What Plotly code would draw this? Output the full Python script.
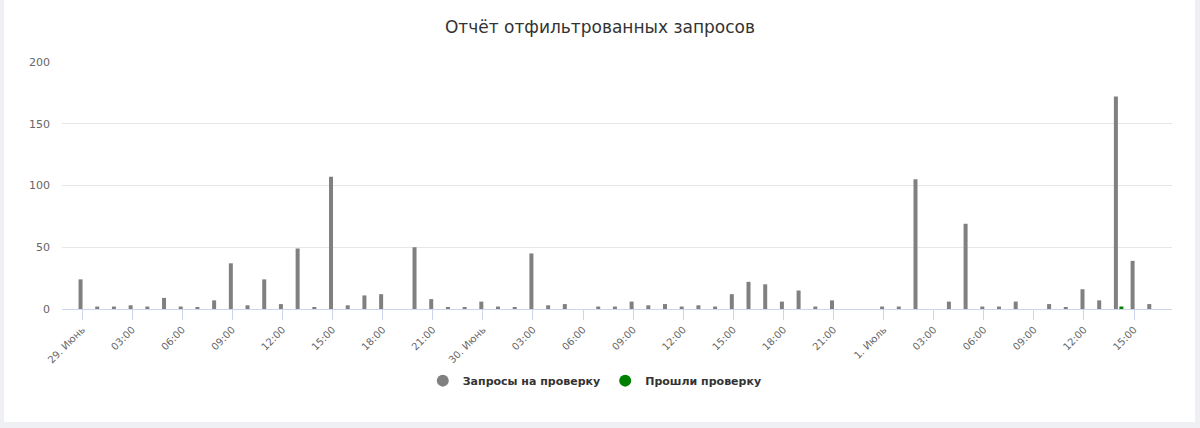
import pandas as pd
import plotly.graph_objects as go

# hourly data, starting 29 June 00:00
start = "2023-06-29 00:00"
requests_checked = [
    24, 2, 2, 3, 2, 9, 2, 1, 7, 37, 3, 24, 4, 49, 1, 107, 3, 11, 12, 0, 50, 8, 1, 1,
    6, 2, 1, 45, 3, 4, 0, 2, 2, 6, 3, 4, 2, 3, 2, 12, 22, 20, 6, 15, 2, 7, 0, 0,
    2, 2, 105, 0, 6, 69, 2, 2, 6, 0, 4, 1, 16, 7, 172, 39, 4,
]
requests_passed = [0] * 62 + [2, 0, 0]

tick_labels = [
    "29. Июнь", "03:00", "06:00", "09:00", "12:00", "15:00", "18:00", "21:00",
    "30. Июнь", "03:00", "06:00", "09:00", "12:00", "15:00", "18:00", "21:00",
    "1. Июль", "03:00", "06:00", "09:00", "12:00", "15:00",
]
y_ticks = [0, 50, 100, 150, 200]

hours = pd.date_range(start, periods=len(requests_checked), freq="h")
tick_vals = pd.date_range(start, periods=len(tick_labels), freq="3h")
HOUR_MS = 3600 * 1000

font = "DejaVu Sans, Verdana, sans-serif"

fig = go.Figure()
fig.add_trace(go.Bar(x=hours, y=requests_checked, name="Запросы на проверку",
                     marker_color="#808080", marker_line_width=0,
                     offset=-0.21 * HOUR_MS, width=0.24 * HOUR_MS,
                     showlegend=False))
fig.add_trace(go.Bar(x=hours, y=requests_passed, name="Прошли проверку",
                     marker_color="#008000", marker_line_width=0,
                     offset=0.12 * HOUR_MS, width=0.24 * HOUR_MS,
                     showlegend=False))
# legend entries with round markers
for name, color in [("Запросы на проверку", "#808080"), ("Прошли проверку", "#008000")]:
    fig.add_trace(go.Scatter(x=[None], y=[None], mode="markers", name=name,
                             marker=dict(color=color, size=12, symbol="circle")))

# chart card
fig.add_shape(type="rect", xref="paper", yref="paper",
              x0=(4 - 62) / 1110, x1=(1195 - 62) / 1110,
              y0=(309 - 422) / 247, y1=(309 + 2) / 247,
              fillcolor="white", line_width=0, layer="below")

fig.update_layout(
    width=1200, height=428,
    barmode="overlay",
    paper_bgcolor="#eef0f4", plot_bgcolor="white",
    margin=dict(l=62, r=28, t=62, b=119),
    font=dict(family=font, color="#666666", size=11),
    title=dict(text="Отчёт отфильтрованных запросов", x=0.5, xanchor="center",
               y=0.937, yanchor="middle",
               font=dict(family=font, size=17, color="#333333")),
    legend=dict(orientation="h", x=0.48, xanchor="center", y=-0.29, yanchor="middle",
                font=dict(family=font, size=11, color="#333333", weight="bold"),
                bgcolor="rgba(0,0,0,0)", itemwidth=30),
    showlegend=True,
)
fig.update_xaxes(
    type="date",
    range=[pd.Timestamp(start) - pd.Timedelta(hours=1.2),
           pd.Timestamp(start) + pd.Timedelta(hours=65.27)],
    tickvals=tick_vals, ticktext=tick_labels, tickangle=-45,
    ticks="outside", ticklen=10, tickcolor="#ccd6eb",
    showline=True, linecolor="#ccd6eb", linewidth=1,
    showgrid=False, zeroline=False,
    tickfont=dict(size=10, color="#666666"),
)
fig.update_yaxes(
    range=[0, 200], tickvals=y_ticks,
    showgrid=True, gridcolor="#e6e6e6", zeroline=False,
    tickfont=dict(size=11, color="#666666"), ticklabelstandoff=11,
)

fig.write_html("out.html", config={"displayModeBar": False},
               post_script="document.body.style.margin = '0';")
